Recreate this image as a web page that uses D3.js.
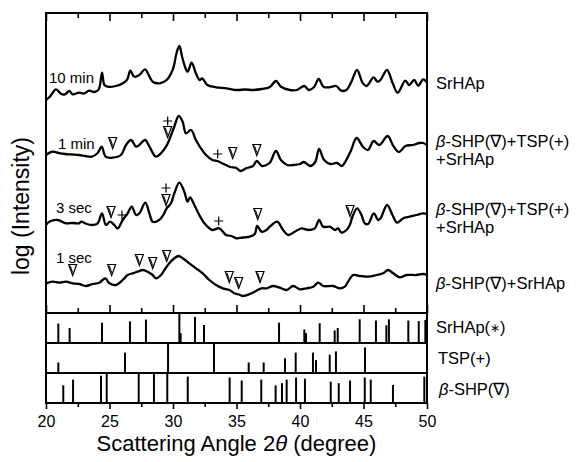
<!DOCTYPE html>
<html><head><meta charset="utf-8">
<script src="https://cdn.jsdelivr.net/npm/d3@7"></script>
<style>
html,body{margin:0;padding:0;background:#fff;}
svg text{font-family:"Liberation Sans",Arial,Helvetica,sans-serif;fill:#000;}
</style></head>
<body><svg id="c" width="581" height="462"></svg>
<script>
// ---------- data ----------
const xTicks = [20,25,30,35,40,45,50];
const xMinor = [22.5,27.5,32.5,37.5,42.5,47.5];

const curveLabels = ["10 min","1 min","3 sec","1 sec"];

const min10 = [[20.0,21.3],[20.3,21.63],[20.79,22.37],[21.2,21.9],[21.5,21.87],[21.84,22.2],[22.1,21.87],[22.6,22.03],[23.0,21.95],[23.4,22.23],[23.8,22.1],[24.15,22.37],[24.41,24.03],[24.6,22.8],[24.86,22.63],[25.5,22.7],[26.05,22.97],[26.4,23.37],[26.64,24.23],[26.95,23.63],[27.35,23.8],[27.8,24.37],[28.15,23.63],[28.4,23.13],[28.95,22.97],[29.5,23.3],[29.97,24.3],[30.12,25.0],[30.28,26.0],[30.5,26.7],[30.72,25.6],[30.95,24.6],[31.15,24.13],[31.47,25.03],[31.8,23.97],[32.1,23.3],[32.3,23.47],[32.7,22.8],[33.4,22.57],[34.2,22.47],[35.0,22.3],[35.7,22.35],[36.3,22.3],[37.0,22.4],[37.6,22.57],[38.11,23.2],[38.5,22.63],[39.2,22.3],[39.75,22.3],[40.34,22.7],[40.7,22.3],[41.1,22.57],[41.47,23.4],[41.85,22.63],[42.3,22.57],[42.85,22.7],[43.25,22.23],[43.65,22.3],[44.05,23.13],[44.49,24.3],[44.95,22.97],[45.25,22.7],[45.8,23.57],[46.1,23.13],[46.33,23.3],[46.85,24.3],[47.3,22.97],[47.69,22.03],[48.29,23.23],[48.6,22.8],[49.0,23.3],[49.3,22.73],[49.7,23.37],[50.0,23.03]];

const min1 = [[20.0,15.8],[20.5,16.13],[21.0,16.0],[21.5,15.9],[22.1,15.85],[22.6,15.8],[23.1,15.7],[23.6,15.63],[24.05,15.97],[24.38,16.63],[24.7,15.63],[25.25,15.53],[25.9,15.8],[26.3,16.8],[26.69,17.3],[27.1,16.63],[27.35,16.8],[27.8,17.3],[28.15,16.63],[28.65,15.63],[29.05,15.97],[29.45,16.63],[29.7,17.3],[30.1,18.63],[30.45,19.7],[30.76,19.13],[31.02,17.97],[31.42,18.3],[31.8,17.3],[32.2,16.47],[32.6,15.8],[33.1,15.3],[33.5,15.2],[34.0,14.9],[34.5,14.6],[35.0,14.5],[35.3,14.2],[35.8,14.5],[36.3,14.7],[36.6,15.2],[37.0,14.7],[37.6,15.0],[38.1,16.2],[38.5,15.3],[39.0,14.8],[39.5,14.8],[40.0,14.9],[40.3,15.1],[40.8,14.7],[41.2,15.1],[41.5,16.4],[41.9,15.3],[42.4,14.9],[42.9,15.0],[43.3,14.7],[43.6,15.2],[44.0,16.2],[44.46,17.5],[44.97,16.6],[45.35,16.3],[45.8,17.2],[46.25,16.8],[46.9,17.7],[47.35,16.7],[47.8,16.1],[48.3,16.7],[48.9,16.8],[49.4,17.0],[49.7,17.0],[50.0,16.8]];

const sec3 = [[20.0,8.8],[20.26,9.13],[20.92,9.3],[21.57,8.97],[22.1,9.0],[22.62,8.97],[22.76,9.13],[23.2,8.9],[23.67,8.8],[24.07,8.97],[24.41,9.97],[24.72,8.8],[25.04,9.13],[25.38,8.8],[25.64,8.47],[26.04,9.3],[26.43,9.97],[26.75,10.63],[27.09,9.8],[27.35,9.97],[27.82,11.03],[28.14,9.97],[28.4,9.13],[28.92,9.3],[29.24,9.8],[29.5,10.47],[29.84,10.97],[30.1,11.97],[30.5,13.03],[30.89,12.13],[31.15,11.13],[31.34,11.57],[31.68,10.8],[32.07,9.8],[32.47,8.97],[32.86,8.47],[33.12,8.3],[33.65,8.47],[34.17,7.8],[34.6,7.7],[35.0,7.47],[35.5,7.55],[36.05,7.63],[36.44,7.9],[36.63,8.7],[36.97,8.13],[37.36,8.3],[37.62,8.63],[38.2,9.13],[38.67,8.3],[39.07,7.8],[39.59,8.13],[40.12,8.47],[40.64,8.3],[41.17,8.47],[41.51,9.3],[41.82,8.63],[42.35,8.63],[42.74,8.3],[43.0,8.47],[43.27,8.03],[43.66,8.3],[43.92,8.8],[44.13,9.63],[44.5,10.47],[44.84,9.8],[45.1,8.97],[45.37,8.9],[45.81,9.97],[46.15,9.3],[46.34,9.47],[46.86,10.8],[47.28,9.8],[47.65,9.03],[48.12,9.47],[48.65,9.63],[49.17,9.8],[49.7,9.97],[50.0,9.9]];

const sec1 = [[20.0,2.97],[20.52,3.13],[21.05,3.03],[21.57,3.13],[22.1,2.97],[22.62,2.9],[23.15,2.7],[23.67,2.9],[24.2,3.03],[24.67,3.47],[24.99,2.97],[25.51,2.8],[26.04,3.3],[26.43,3.8],[26.82,3.97],[27.22,4.13],[27.61,4.3],[28.0,4.13],[28.4,3.8],[28.66,3.47],[29.06,3.8],[29.32,4.3],[29.71,4.97],[30.1,5.47],[30.45,5.7],[30.76,5.47],[31.29,4.97],[31.81,4.47],[32.34,3.97],[32.86,3.3],[33.39,2.8],[33.91,2.47],[34.44,2.3],[34.83,1.97],[35.2,1.85],[35.52,1.7],[36.05,1.9],[36.57,2.23],[36.97,2.47],[37.36,2.47],[37.89,2.7],[38.41,2.53],[38.94,2.3],[39.46,2.7],[39.99,2.37],[40.51,2.47],[41.04,2.63],[41.43,3.03],[41.82,2.7],[42.61,2.7],[43.14,2.47],[43.53,2.63],[43.79,3.13],[44.19,3.8],[44.71,3.7],[45.37,3.63],[46.02,3.8],[46.55,3.97],[46.94,4.3],[47.34,3.97],[47.86,3.57],[48.39,3.8],[49.17,3.8],[49.7,3.9],[50.0,3.8]];

// phase markers on curves: [angle, level]
const triMarks = [[25.25,17.0],[29.58,18.1],[34.7,16.0],[36.6,16.3],
  [25.12,10.1],[29.45,11.3],[36.67,9.9],[43.94,10.2],
  [22.1,4.3],[25.17,4.3],[27.35,5.3],[28.4,5.0],[29.5,5.7],[34.43,3.6],[35.17,3.0],[36.85,3.6]];
const plusMarks = [[29.58,19.2],[33.52,15.9],[25.98,9.8],[29.45,12.5],[33.6,9.2]];

// reference patterns (angle, relative intensity)
const srhapAng = [20.97,21.86,24.41,26.61,27.87,30.5,30.6,31.73,32.44,38.35,40.34,40.47,41.55,42.73,42.97,44.7,45.98,46.8,47.0,48.53,49.35,49.87];
const srhapInt = [0.65,0.5,0.68,0.72,0.78,1.0,0.33,0.87,0.6,0.68,0.45,0.33,0.66,0.42,0.5,0.79,0.75,0.59,0.79,0.75,0.73,0.77];
const tspAng = [20.97,26.22,29.61,33.23,35.96,37.14,38.82,39.66,41.02,41.26,42.34,42.83,45.12];
const tspInt = [0.35,0.68,1.0,1.0,0.35,0.35,0.49,0.68,0.68,0.43,0.61,0.72,0.85];
const shpAng = [21.36,22.13,24.33,24.78,27.3,28.5,29.55,31.16,34.46,35.41,36.95,38.08,38.58,38.95,39.69,40.39,42.42,43.05,43.94,45.1,45.57,47.32,49.79];
const shpInt = [0.59,0.78,0.91,1.0,1.0,1.0,1.0,0.88,0.85,0.75,0.78,0.59,0.66,0.78,0.85,0.81,0.71,0.66,0.75,0.85,0.78,0.6,0.88];

// ---------- drawing ----------
const svg = d3.select("#c");
const L = 46, R = 427, T = 13, MB = 313, PH = 30;
const x = d3.scaleLinear().domain([20,50]).range([L,R]);
const y = d3.scaleLinear().domain([0,30]).range([MB,T]);

const line = d3.line().x(d=>x(d[0])).y(d=>y(d[1])).curve(d3.curveCatmullRom.alpha(0.5));
[min10,min1,sec3,sec1].forEach(s=>{
  svg.append("path").datum(s).attr("d",line)
    .attr("fill","none").attr("stroke","#000").attr("stroke-width",2.3).attr("stroke-linejoin","round");
});

// markers
svg.selectAll("g.tri").data(triMarks).join("g").attr("class","tri")
  .attr("transform",d=>`translate(${x(d[0])},${y(d[1])})`)
  .each(function(){
    const g=d3.select(this);
    g.append("path").attr("d","M-4,-5.5L4,-5.5L0,5.5Z").attr("fill","#fff").attr("stroke","#000").attr("stroke-width",1.2);
    g.append("path").attr("d","M-2.4,-4.3L0,2.6").attr("stroke","#000").attr("stroke-width",1);
  });
svg.selectAll("g.plus").data(plusMarks).join("g").attr("class","plus")
  .attr("transform",d=>`translate(${x(d[0])},${y(d[1])})`)
  .each(function(){
    d3.select(this).append("path").attr("d","M-4.5,0H4.5M0,-4.5V4.5").attr("stroke","#000").attr("stroke-width",1.2);
  });

// curve labels
const labPos = [[49,82.7],[58,149.3],[56,213.3],[56,263.3]];
svg.selectAll("text.cl").data(curveLabels).join("text").attr("class","cl")
  .attr("x",(d,i)=>labPos[i][0]).attr("y",(d,i)=>labPos[i][1])
  .style("font-size","15px").text(d=>d);

// stick panels
const panels = [[srhapAng,srhapInt],[tspAng,tspInt],[shpAng,shpInt]];
panels.forEach((p,k)=>{
  const top = MB + k*PH, base = top + PH;
  const ys = d3.scaleLinear().domain([0,1]).range([base,top]);
  svg.append("g").selectAll("line").data(p[0]).join("line")
    .attr("x1",d=>x(d)).attr("x2",d=>x(d))
    .attr("y1",base).attr("y2",(d,i)=>ys(p[1][i]))
    .attr("stroke","#000").attr("stroke-width",2);
});

// frame lines
const frame = svg.append("g").attr("stroke","#000").attr("stroke-width",2).attr("fill","none");
frame.append("rect").attr("x",L).attr("y",T).attr("width",R-L).attr("height",MB+3*PH-T);
[MB, MB+PH, MB+2*PH].forEach(v=>frame.append("line").attr("x1",L).attr("x2",R).attr("y1",v).attr("y2",v));

// ticks
function ticks(g, vals, len){ g.call(d3.axisBottom(x).tickValues(vals).tickSize(len).tickFormat("")).call(a=>a.select(".domain").remove()); g.selectAll("line").attr("stroke-width",1.6); }
ticks(svg.append("g").attr("transform",`translate(0,${T})`), xTicks, 8);
ticks(svg.append("g").attr("transform",`translate(0,${T})`), xMinor, 5);
ticks(svg.append("g").attr("transform",`translate(0,${MB})`), xTicks, -8);
ticks(svg.append("g").attr("transform",`translate(0,${MB})`), xMinor, -5);
ticks(svg.append("g").attr("transform",`translate(0,${MB+3*PH})`), xMinor, 4);
const ax = svg.append("g").attr("transform",`translate(0,${MB+3*PH})`)
  .call(d3.axisBottom(x).tickValues(xTicks).tickSize(6).tickPadding(7).tickFormat(d3.format("d")));
ax.select(".domain").remove();
ax.selectAll("line").attr("stroke-width",1.6);
ax.selectAll("text").style("font-size","16px").style("font-family",'"Liberation Sans",Arial,sans-serif').attr("fill","#000");

// axis titles
svg.append("text").attr("x",(88+385)/2).attr("y",450.5).attr("text-anchor","middle").style("font-size","22px")
  .html('Scattering Angle 2<tspan font-style="italic">θ</tspan> (degree)');
svg.append("text").attr("transform","translate(29,206) rotate(-90)").attr("text-anchor","middle").style("font-size","23px")
  .text("log (Intensity)");

// right labels
const rl = svg.append("g").style("font-size","16.5px");
rl.append("text").attr("x",436).attr("y",88.5).text("SrHAp");
rl.append("text").attr("x",436).attr("y",146.5).html('<tspan font-style="italic">β</tspan>-SHP(∇)+TSP(+)');
rl.append("text").attr("x",436).attr("y",164.5).text("+SrHAp");
rl.append("text").attr("x",436).attr("y",214.5).html('<tspan font-style="italic">β</tspan>-SHP(∇)+TSP(+)');
rl.append("text").attr("x",436).attr("y",232.5).text("+SrHAp");
rl.append("text").attr("x",436).attr("y",288.5).html('<tspan font-style="italic">β</tspan>-SHP(∇)+SrHAp');
rl.append("text").attr("x",436).attr("y",332.5).html('SrHAp(<tspan font-size="12px" dy="-1">∗</tspan><tspan dy="1">)</tspan>');
rl.append("text").attr("x",438).attr("y",364).text("TSP(+)");
rl.append("text").attr("x",439).attr("y",395).html('<tspan font-style="italic">β</tspan>-SHP(∇)');
</script></body></html>
